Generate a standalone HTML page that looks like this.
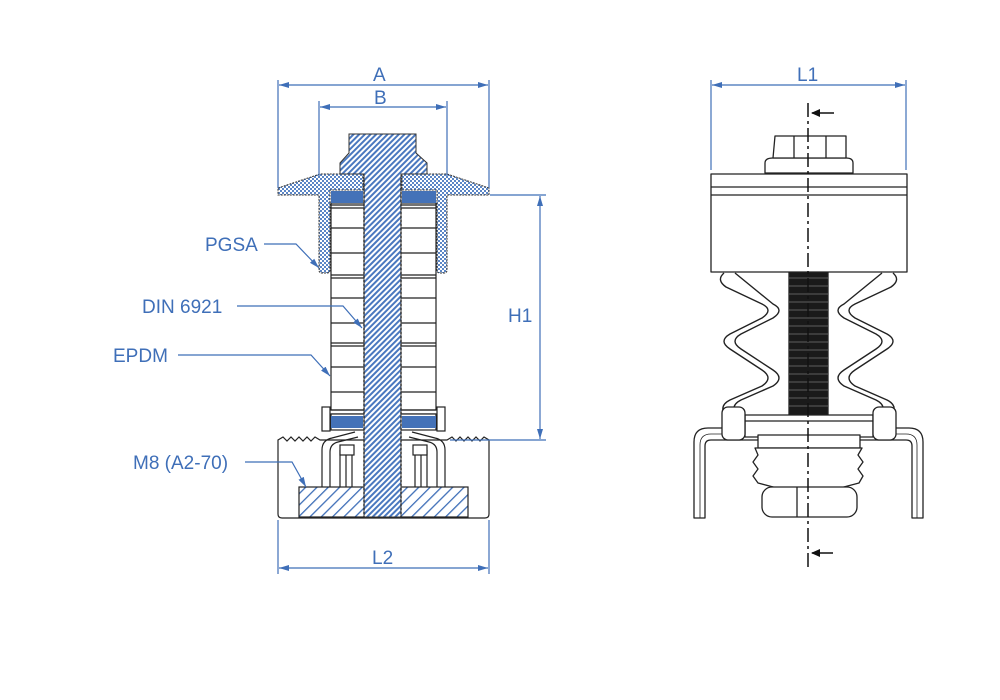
<!DOCTYPE html>
<html><head><meta charset="utf-8"><style>
html,body{margin:0;padding:0;background:#fff;}
svg{display:block}
text{font-family:"Liberation Sans",sans-serif;fill:#3f6fb8;font-size:19px}
</style></head><body>
<svg width="1000" height="700" viewBox="0 0 1000 700" xmlns="http://www.w3.org/2000/svg">
<defs>
<pattern id="xh" width="4" height="4" patternUnits="userSpaceOnUse" patternTransform="rotate(45)">
<rect width="4" height="4" fill="#fff"/><rect width="2" height="4" fill="#4a78bf"/></pattern>
<pattern id="xh2" width="4" height="4" patternUnits="userSpaceOnUse">
<rect width="4" height="4" fill="#5b86c6"/><rect width="2" height="2" fill="#fff"/><rect x="2" y="2" width="2" height="2" fill="#fff"/></pattern>
<pattern id="dh" width="8" height="8" patternUnits="userSpaceOnUse" patternTransform="rotate(45)">
<rect width="8" height="8" fill="#fff"/><rect width="1.3" height="8" fill="#3f6fb8"/></pattern>
<marker id="ar" markerWidth="10" markerHeight="6" refX="10" refY="3" orient="auto" markerUnits="userSpaceOnUse"><path d="M0,0 L10,3 L0,6z" fill="#3f6fb8"/></marker>
<marker id="al" markerWidth="10" markerHeight="6" refX="0" refY="3" orient="auto" markerUnits="userSpaceOnUse"><path d="M10,0 L0,3 L10,6z" fill="#3f6fb8"/></marker>
</defs>

<text x="373" y="81">A</text>
<text x="374" y="104">B</text>
<text x="508" y="322">H1</text>
<text x="372" y="564">L2</text>
<text x="205" y="251">PGSA</text>
<text x="142" y="313">DIN 6921</text>
<text x="113" y="362">EPDM</text>
<text x="133" y="469">M8 (A2-70)</text>

<g stroke="#222" stroke-width="1.2">
<path d="M278,440 L283,437 L287,441 L291,437 L295,441 L299,437 L303,441 L307,437 L311,441 L315,437 L320,440 L447,440 L452,437 L456,441 L460,437 L464,441 L468,437 L472,441 L476,437 L480,441 L484,437 L489,440 L489,514 Q489,518 485,518 L282,518 Q278,518 278,514 Z" fill="#fff"/>
<rect x="299" y="487" width="169" height="30" fill="url(#dh)"/>
<path d="M322,487 L322,450 Q322,440 332,438 L355,432 M330,487 L330,452 Q330,444 338,442 L358,437 M340,487 L340,450 M346,487 L346,450 M352,487 L352,445 M445,487 L445,450 Q445,440 435,438 L412,432 M437,487 L437,452 Q437,444 429,442 L409,437 M427,487 L427,450 M421,487 L421,450 M415,487 L415,445" fill="none"/>
<rect x="340" y="445" width="14" height="10" fill="#fff"/><rect x="413" y="445" width="14" height="10" fill="#fff"/>
<rect x="322" y="407" width="8" height="24" fill="#fff"/><rect x="437" y="407" width="8" height="24" fill="#fff"/>
<rect x="331" y="203" width="105" height="207" fill="#fff"/>
<path d="M331,205H436M331,208H436M331,228H436M331,253H436M331,275H436M331,278H436M331,298H436M331,323H436M331,343H436M331,346H436M331,367H436M331,392H436M331,410H436M331,414H436" fill="none"/>
<rect x="331" y="414" width="105" height="16" fill="#fff"/>
</g>
<rect x="331" y="191" width="32" height="12" fill="#4472b8"/><rect x="402" y="191" width="34" height="12" fill="#4472b8"/>
<rect x="331" y="416" width="32" height="12" fill="#4472b8"/><rect x="402" y="416" width="34" height="12" fill="#4472b8"/>
<path d="M278,188 L320,174 L363,174 L363,190 L330,190 L330,270 Q330,273 327,273 L322,273 Q319,273 319,270 L319,195 L278,195 Z" fill="url(#xh2)" stroke="#333" stroke-width="1" stroke-dasharray="2 1"/>
<path d="M489,188 L447,174 L402,174 L402,190 L437,190 L437,270 Q437,273 440,273 L444,273 Q447,273 447,270 L447,195 L489,195 Z" fill="url(#xh2)" stroke="#333" stroke-width="1" stroke-dasharray="2 1"/>
<path d="M349,134 L416,134 L416,153 L427,163 L427,174 L401,174 L401,517 L364,517 L364,174 L340,174 L340,163 L349,153 Z" fill="url(#xh)" stroke="#333" stroke-width="1"/>
<line x1="364" y1="180" x2="364" y2="517" stroke="#333" stroke-width="1.5" stroke-dasharray="2 2"/>
<line x1="401" y1="180" x2="401" y2="517" stroke="#333" stroke-width="1.5" stroke-dasharray="2 2"/>

<g stroke="#3f6fb8" stroke-width="1.2" fill="none">
<line x1="278" y1="80" x2="278" y2="188"/><line x1="489" y1="80" x2="489" y2="188"/>
<line x1="279" y1="85" x2="488" y2="85" marker-start="url(#al)" marker-end="url(#ar)"/>
<line x1="319" y1="101" x2="319" y2="176"/><line x1="447" y1="101" x2="447" y2="176"/>
<line x1="320" y1="107" x2="446" y2="107" marker-start="url(#al)" marker-end="url(#ar)"/>
<line x1="490" y1="195" x2="546" y2="195"/><line x1="450" y1="440" x2="546" y2="440"/>
<line x1="540" y1="196" x2="540" y2="439" marker-start="url(#al)" marker-end="url(#ar)"/>
<line x1="278" y1="520" x2="278" y2="574"/><line x1="489" y1="520" x2="489" y2="574"/>
<line x1="279" y1="568" x2="488" y2="568" marker-start="url(#al)" marker-end="url(#ar)"/>
<polyline points="264,244 296,244 319,268" marker-end="url(#ar)"/>
<polyline points="237,306 343,306 362,328" marker-end="url(#ar)"/>
<polyline points="178,355 311,355 330,376" marker-end="url(#ar)"/>
<polyline points="245,462 292,462 306,487" marker-end="url(#ar)"/>
<line x1="711" y1="80" x2="711" y2="170"/><line x1="906" y1="80" x2="906" y2="170"/>
<line x1="712" y1="85" x2="905" y2="85" marker-start="url(#al)" marker-end="url(#ar)"/>
</g>
<text x="797" y="81">L1</text>
<g stroke="#222" stroke-width="1.3" fill="#fff" stroke-linejoin="round">
<path d="M694,518 L694,442 Q694,428 708,428 L909,428 Q923,428 923,442 L923,518 L912,518 L912,446 Q912,440 906,440 L711,440 Q705,440 705,446 L705,518 Z"/>
<path d="M700,518 V445 Q700,434 711,434 H906 Q917,434 917,445 V518" fill="none" stroke-width="0.8"/>
<g fill="none" stroke-width="1.4">
<path id="bo" d="M724,273 Q716,280 726,287 L762,304 Q774,310 762,318 L730,334 Q718,341 730,349 L762,370 Q774,378 762,386 L730,400 Q722,404 723,410"/>
<path d="M735,273 L773,304 Q785,310 773,318 L741,334 Q729,341 741,349 L773,370 Q785,378 773,386 L741,400 Q733,404 734,410"/>
<g transform="translate(1617,0) scale(-1,1)">
<path d="M724,273 Q716,280 726,287 L762,304 Q774,310 762,318 L730,334 Q718,341 730,349 L762,370 Q774,378 762,386 L730,400 Q722,404 723,410"/>
<path d="M735,273 L773,304 Q785,310 773,318 L741,334 Q729,341 741,349 L773,370 Q785,378 773,386 L741,400 Q733,404 734,410"/>
</g>
</g>
<rect x="789" y="272" width="39" height="145" fill="#1a1a1a"/>
<path d="M789,278H828M789,286H828M789,294H828M789,302H828M789,310H828M789,318H828M789,326H828M789,334H828M789,342H828M789,350H828M789,358H828M789,366H828M789,374H828M789,382H828M789,390H828M789,398H828M789,406H828" stroke="#777" stroke-width="0.7"/>
<rect x="745" y="415" width="128" height="22"/>
<line x1="745" y1="421" x2="873" y2="421"/>
<rect x="722" y="407" width="23" height="33" rx="6"/><rect x="873" y="407" width="23" height="33" rx="6"/>
<rect x="758" y="435" width="102" height="13"/>
<path d="M755,448 L758,455 L753,462 L758,469 L753,476 L758,483 L777,488 L840,488 L859,483 L863,476 L858,469 L863,462 L858,455 L862,448 Z"/>
<rect x="762" y="487" width="95" height="30" rx="10"/>
<line x1="797" y1="487" x2="797" y2="517"/>
<rect x="711" y="174" width="196" height="98"/>
<line x1="711" y1="187" x2="907" y2="187"/><line x1="711" y1="195" x2="907" y2="195"/>
<path d="M765,173 L765,163 Q765,158 773,158 L846,158 Q853,158 853,163 L853,173 Z"/>
<path d="M773,158 L775,136 L846,136 L846,158 Z"/>
<line x1="794" y1="136" x2="794" y2="158"/><line x1="826" y1="136" x2="826" y2="158"/>
</g>
<line x1="808" y1="103" x2="808" y2="568" stroke="#111" stroke-width="1.5" stroke-dasharray="14 4 3 4"/>
<g stroke="#111" stroke-width="1.5"><line x1="812" y1="113" x2="834" y2="113"/><line x1="812" y1="553" x2="833" y2="553"/></g>
<path d="M811,113 l9,-4 v8z M811,553 l9,-4 v8z" fill="#111"/>
</svg>
</body></html>
